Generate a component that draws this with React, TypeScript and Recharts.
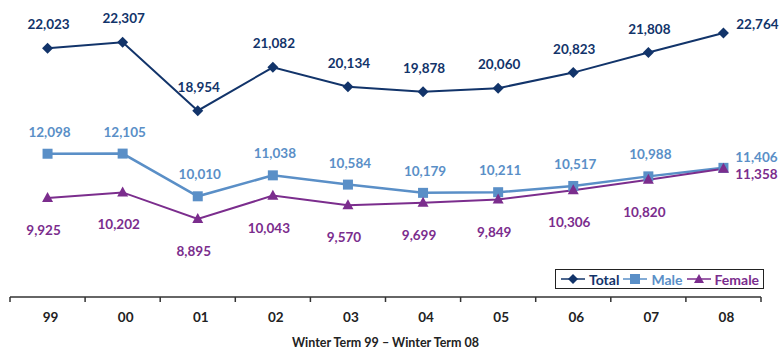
import React from 'react';
import { LineChart, Line, XAxis, YAxis, LabelList, Label, Legend } from 'recharts';

const categories = ['99', '00', '01', '02', '03', '04', '05', '06', '07', '08'];
const totalValues = [22023, 22307, 18954, 21082, 20134, 19878, 20060, 20823, 21808, 22764];
const maleValues = [12098, 12105, 10010, 11038, 10584, 10179, 10211, 10517, 10988, 11406];
const femaleValues = [9925, 10202, 8895, 10043, 9570, 9699, 9849, 10306, 10820, 11358];
const xTitle = 'Winter Term 99 – Winter Term 08';

const NAVY = '#12346a';
const BLUE = '#5a8fc7';
const PURPLE = '#7b2d8d';
const FONT = 'Lato, "Open Sans", sans-serif';

const data = categories.map((c, i) => ({
  cat: c,
  total: totalValues[i],
  male: maleValues[i],
  female: femaleValues[i],
}));

const fmt = (v: number) => v.toLocaleString('en-US');

const Diamond = (props: any) => {
  const { cx, cy } = props;
  if (cx == null || cy == null) return null;
  return <polygon points={`${cx},${cy - 5.5} ${cx + 5.5},${cy} ${cx},${cy + 5.5} ${cx - 5.5},${cy}`} fill={NAVY} />;
};
const Square = (props: any) => {
  const { cx, cy } = props;
  if (cx == null || cy == null) return null;
  return <rect x={cx - 5} y={cy - 5} width={10} height={10} fill={BLUE} />;
};
const Triangle = (props: any) => {
  const { cx, cy } = props;
  if (cx == null || cy == null) return null;
  return <polygon points={`${cx},${cy - 6} ${cx + 5.5},${cy + 4} ${cx - 5.5},${cy + 4}`} fill={PURPLE} />;
};

const makeLabel = (color: string, dy: number, dx: number, lastDx: number, lastDy: number) => (props: any) => {
  const { x, y, value, index } = props;
  const last = index === categories.length - 1;
  return (
    <text
      x={x + (last ? lastDx : dx)}
      y={y + (last ? lastDy : dy)}
      fill={color}
      fontFamily={FONT}
      fontWeight={700}
      fontSize={13.5}
      textAnchor="middle"
      dominantBaseline="central"
    >
      {fmt(value)}
    </text>
  );
};

const BAND_PAD = 37.55;

const XTick = (props: any) => {
  const { x, y, payload, index, visibleTicksCount } = props;
  const half = BAND_PAD;
  const isLast = index === visibleTicksCount - 1;
  return (
    <g>
      <line x1={x - half} x2={x - half} y1={y} y2={y + 5} stroke="#333" strokeWidth={1.5} />
      {isLast && <line x1={x + half} x2={x + half} y1={y} y2={y + 5} stroke="#333" strokeWidth={1.5} />}
      <text x={x + 3} y={y + 20} textAnchor="middle" dominantBaseline="central" fill="#222" fontFamily={FONT} fontWeight={700} fontSize={13.5}>
        {payload.value}
      </text>
    </g>
  );
};

const LegendContent = () => {
  const items = [
    { name: 'Total', color: NAVY, shape: 'diamond' },
    { name: 'Male', color: BLUE, shape: 'square' },
    { name: 'Female', color: PURPLE, shape: 'triangle' },
  ];
  return (
    <div
      style={{
        border: '1.5px solid #222',
        display: 'inline-flex',
        alignItems: 'center',
        padding: '0 4px',
        height: 18,
        fontFamily: FONT,
        fontWeight: 700,
        fontSize: 14,
        background: '#fff',
      }}
    >
      {items.map((it, i) => (
        <span key={it.name} style={{ display: 'inline-flex', alignItems: 'center', marginRight: i < 2 ? 3 : 0 }}>
          <svg width={26} height={12}>
            <line x1={1} x2={25} y1={6} y2={6} stroke={it.color} strokeWidth={1.5} />
            {it.shape === 'diamond' && <polygon points="13,1 18,6 13,11 8,6" fill={it.color} />}
            {it.shape === 'square' && <rect x={8} y={1} width={10} height={10} fill={it.color} />}
            {it.shape === 'triangle' && <polygon points="13,1 18,10 8,10" fill={it.color} />}
          </svg>
          <span style={{ color: it.color, marginLeft: 3 }}>{it.name}</span>
        </span>
      ))}
    </div>
  );
};

export default function App() {
  return (
    <div style={{ position: 'absolute', left: 0, top: 0, width: 781, height: 351, background: '#fff' }}>
      <LineChart width={781} height={351} data={data} margin={{ top: 0, right: 20, bottom: 0, left: 10 }}>
        <XAxis
          dataKey="cat"
          xAxisId={0}
          height={54}
          tickSize={0}
          tickMargin={0}
          tickLine={false}
          padding={{ left: BAND_PAD, right: BAND_PAD }}
          axisLine={{ stroke: '#333', strokeWidth: 1.5 }}
          tick={<XTick />}
          interval={0}
        >
          <Label
            value={xTitle}
            position="insideBottom"
            offset={4}
            fill="#222"
            fontFamily={FONT}
            fontWeight={700}
            fontSize={12.5}
          />
        </XAxis>
        <YAxis yAxisId="mf" hide domain={[5070, 19640]} type="number" allowDataOverflow />
        <YAxis yAxisId="tot" hide orientation="right" domain={[9816, 24384]} type="number" allowDataOverflow />
        <Legend
          content={<LegendContent />}
          layout="horizontal"
          verticalAlign="middle"
          align="center"
          wrapperStyle={{ left: 555, top: 269, width: 'auto' }}
        />
        <Line yAxisId="tot" dataKey="total" stroke={NAVY} strokeWidth={2} dot={<Diamond />} activeDot={false} isAnimationActive={false}>
          <LabelList dataKey="total" content={makeLabel(NAVY, -24, 1, 34, -9)} />
        </Line>
        <Line yAxisId="mf" dataKey="male" stroke={BLUE} strokeWidth={2.5} dot={<Square />} activeDot={false} isAnimationActive={false}>
          <LabelList dataKey="male" content={makeLabel(BLUE, -22, 2, 33, -11)} />
        </Line>
        <Line yAxisId="mf" dataKey="female" stroke={PURPLE} strokeWidth={2} dot={<Triangle />} activeDot={false} isAnimationActive={false}>
          <LabelList dataKey="female" content={makeLabel(PURPLE, 32, -4, 33, 5)} />
        </Line>
      </LineChart>
    </div>
  );
}
